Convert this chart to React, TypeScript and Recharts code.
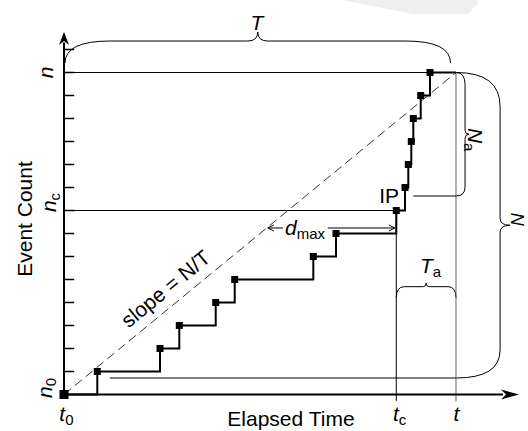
import React from 'react';
import { ComposedChart, Line, XAxis, YAxis, ReferenceLine, ReferenceDot, ReferenceArea } from 'recharts';

// ---- data (time in % of T, counts) ----
const eventTimes = [0, 8.49, 24.49, 29.41, 38.7, 43.55, 63.6, 69.39, 84.77, 86.99, 87.83, 88.6, 89.11, 91.0, 93.37];
const eventCounts = [0, 1, 2, 3, 4, 5, 6, 7, 8, 9, 10, 11, 12, 13, 14];
const T_END = 100;
const N_END = 14;
const T_C = 84.77;
const N_C = 8;
const yTickCounts = [1, 2, 3, 4, 5, 6, 7, 8, 9, 10, 11, 12, 13, 14, 15];

// ---- layout (axis domains chosen so the whole canvas is plot area) ----
const W = 528;
const H = 431;
const X_DOMAIN: [number, number] = [-16.33, 118.37];
const Y_DOMAIN: [number, number] = [-1.587, 17.152];
const FONT = "'Liberation Sans', Arial, Helvetica, sans-serif";
const FS = 21;
const SUB = 15;

const stepData = [
  ...eventTimes.map((t, i) => ({ t, n: eventCounts[i], ev: true })),
  { t: T_END, n: N_END, ev: false },
];

type Part = { s: string; it?: boolean; sub?: boolean };
type Ann = { t: number; n: number; parts: Part[]; anchor: 'start' | 'middle' | 'end'; rot?: number; fs?: number };

const annotations: Ann[] = [
  { t: 49.2, n: 15.85, parts: [{ s: 'T', it: true }], anchor: 'middle' },
  { t: -2.81, n: 14.0, parts: [{ s: 'n', it: true }], anchor: 'middle', rot: -90 },
  { t: -2.04, n: 7.93, parts: [{ s: 'n', it: true }, { s: 'c', sub: true }], anchor: 'start', rot: -90 },
  { t: -8.16, n: 7.63, parts: [{ s: 'Event Count' }], anchor: 'middle', rot: -90 },
  { t: -3.06, n: -0.15, parts: [{ s: 'n', it: true }, { s: '0', sub: true }], anchor: 'start', rot: -90 },
  { t: -1.2, n: -1.15, parts: [{ s: 't', it: true }, { s: '0', sub: true }], anchor: 'start' },
  { t: 57.9, n: -1.37, parts: [{ s: 'Elapsed Time' }], anchor: 'middle' },
  { t: 83.9, n: -1.15, parts: [{ s: 't', it: true }, { s: 'c', sub: true }], anchor: 'start' },
  { t: 100.1, n: -1.15, parts: [{ s: 't', it: true }], anchor: 'middle' },
  { t: 85.46, n: 8.33, parts: [{ s: 'IP' }], anchor: 'end' },
  { t: 56.38, n: 6.93, parts: [{ s: 'd', it: true }, { s: 'max', sub: true }], anchor: 'start' },
  { t: 27.1, n: 4.35, parts: [{ s: 'slope = N/T' }], anchor: 'middle', rot: -39.4 },
  { t: 90.82, n: 5.28, parts: [{ s: 'T', it: true }, { s: 'a', sub: true }], anchor: 'start' },
  { t: 103.06, n: 11.59, parts: [{ s: 'N', it: true }, { s: 'a', sub: true }], anchor: 'start', rot: 90 },
  { t: 114.0, n: 7.9, parts: [{ s: 'N', it: true }], anchor: 'start', rot: 90, fs: 18 },
];

const labelShape = (a: Ann) => (p: any) => {
  const { cx, cy } = p;
  const fs = a.fs ?? FS;
  return (
    <text
      x={cx}
      y={cy}
      fontFamily={FONT}
      fontSize={fs}
      fill="#000"
      textAnchor={a.anchor}
      transform={a.rot ? `rotate(${a.rot} ${cx} ${cy})` : undefined}
    >
      {a.parts.map((pt, i) => (
        <tspan
          key={i}
          fontStyle={pt.it ? 'italic' : 'normal'}
          fontSize={pt.sub ? SUB : fs}
          dy={pt.sub ? 4 : 0}
        >
          {pt.s}
        </tspan>
      ))}
    </text>
  );
};

const braceUp = (rEnd: number, rTip: number, armFrac: number) => (p: any) => {
  const { x, y, width: w, height: h } = p;
  const yb = y + h;
  const ym = y + h * armFrac;
  const xc = x + w / 2;
  const x1 = x + w;
  const d = `M${x},${yb} Q${x},${ym} ${x + rEnd},${ym} L${xc - rTip},${ym} Q${xc},${ym} ${xc},${y} Q${xc},${ym} ${xc + rTip},${ym} L${x1 - rEnd},${ym} Q${x1},${ym} ${x1},${yb}`;
  return <path d={d} fill="none" stroke="#000" strokeWidth={1} />;
};

const braceRight = (rTop: number, rBot: number, rTip: number, armFrac: number) => (p: any) => {
  const { x, y, width: w, height: h } = p;
  const xa = x + w * armFrac;
  const xt = x + w;
  const yc = y + h / 2;
  const yb = y + h;
  const d = `M${x},${y} Q${xa},${y} ${xa},${y + rTop} L${xa},${yc - rTip} Q${xa},${yc} ${xt},${yc} Q${xa},${yc} ${xa},${yc + rTip} L${xa},${yb - rBot} Q${xa},${yb} ${x},${yb}`;
  return <path d={d} fill="none" stroke="#000" strokeWidth={1} />;
};

const watermark = (p: any) => {
  const { x, y, width: w, height: h } = p;
  const pts = [
    [0, 0],
    [0.522, 1],
    [0.926, 1],
    [1, 0.21],
    [1, 0],
  ]
    .map(([fx, fy]) => `${x + fx * w},${y + fy * h}`)
    .join(' ');
  return <polygon points={pts} fill="#efefef" />;
};

const arrowRight = (p: any) => {
  const { cx, cy } = p;
  return <path d={`M${cx},${cy} L${cx - 18},${cy - 5} L${cx - 13},${cy} L${cx - 18},${cy + 5} Z`} fill="#000" />;
};
const arrowUp = (p: any) => {
  const { cx, cy } = p;
  return <path d={`M${cx},${cy} L${cx - 5},${cy + 13} L${cx},${cy + 9} L${cx + 5},${cy + 13} Z`} fill="#000" />;
};
const chevronLeft = (p: any) => {
  const { cx, cy } = p;
  return <path d={`M${cx + 6},${cy - 3} L${cx},${cy} L${cx + 6},${cy + 3}`} fill="none" stroke="#000" strokeWidth={1} />;
};
const chevronRight = (p: any) => {
  const { cx, cy } = p;
  return <path d={`M${cx - 6},${cy - 3} L${cx},${cy} L${cx - 6},${cy + 3}`} fill="none" stroke="#000" strokeWidth={1} />;
};

const renderSquare = (props: any) => {
  const { cx, cy, payload, index } = props;
  if (!payload || !payload.ev) return <g key={`sq-${index}`} />;
  const s = index === 0 ? 9 : 7;
  return <rect key={`sq-${index}`} x={cx - s / 2} y={cy - s / 2} width={s} height={s} fill="#000" />;
};

export default function App() {
  return (
    <div style={{ position: 'fixed', left: 0, top: 0, width: W, height: H, background: '#fff' }}>
      <ComposedChart width={W} height={H} margin={{ top: 0, right: 0, bottom: 0, left: 0 }}>
        <XAxis hide type="number" dataKey="t" domain={X_DOMAIN} allowDataOverflow />
        <YAxis hide type="number" dataKey="n" domain={Y_DOMAIN} allowDataOverflow />

        <ReferenceArea x1={70.9} x2={105.6} y1={16.54} y2={17.15} shape={watermark} />

        {/* guide lines */}
        <ReferenceLine segment={[{ x: 0, y: N_END }, { x: T_END, y: N_END }]} stroke="#000" strokeWidth={1} />
        <ReferenceLine segment={[{ x: 0, y: N_C }, { x: T_C, y: N_C }]} stroke="#000" strokeWidth={1} />
        <ReferenceLine segment={[{ x: T_C, y: N_C }, { x: T_C, y: -0.28 }]} stroke="#000" strokeWidth={1} />
        <ReferenceLine segment={[{ x: T_END, y: N_END }, { x: T_END, y: -0.3 }]} stroke="#666" strokeWidth={1} />
        <ReferenceLine segment={[{ x: 11.7, y: 0.717 }, { x: T_END, y: 0.717 }]} stroke="#000" strokeWidth={1} />
        <ReferenceLine segment={[{ x: 89.1, y: 8.63 }, { x: T_END, y: 8.63 }]} stroke="#000" strokeWidth={1} />
        <ReferenceLine
          segment={[{ x: 0, y: 0 }, { x: T_END, y: N_END }]}
          stroke="#333"
          strokeWidth={1}
          strokeDasharray="9 5"
        />

        {/* d_max arrow */}
        <ReferenceLine segment={[{ x: 52.0, y: 7.24 }, { x: 55.9, y: 7.24 }]} stroke="#000" strokeWidth={1} />
        <ReferenceLine segment={[{ x: 67.3, y: 7.24 }, { x: 84.4, y: 7.24 }]} stroke="#000" strokeWidth={1} />
        <ReferenceDot x={52.0} y={7.24} shape={chevronLeft} />
        <ReferenceDot x={84.4} y={7.24} shape={chevronRight} />

        {/* braces */}
        <ReferenceArea x1={0.26} x2={98.6} y1={14.41} y2={15.76} shape={braceUp(45, 10, 0.29)} />
        <ReferenceArea x1={T_C} x2={T_END} y1={4.2} y2={4.85} shape={braceUp(8, 3, 0.25)} />
        <ReferenceArea x1={T_END} x2={113.8} y1={0.717} y2={N_END} shape={braceRight(34, 28, 7, 0.815)} />
        <ReferenceArea x1={T_END} x2={103.3} y1={8.63} y2={N_END} shape={braceRight(12, 9, 4, 0.7)} />

        {/* axes */}
        {yTickCounts.map((k) => (
          <ReferenceLine key={`tk${k}`} segment={[{ x: 0, y: k }, { x: 2.6, y: k }]} stroke="#000" strokeWidth={1.5} />
        ))}
        <ReferenceLine segment={[{ x: 0, y: 0 }, { x: 112, y: 0 }]} stroke="#000" strokeWidth={2} />
        <ReferenceLine segment={[{ x: 0, y: 0 }, { x: 0, y: 15.3 }]} stroke="#000" strokeWidth={2} />
        <ReferenceDot x={116.07} y={0} shape={arrowRight} />
        <ReferenceDot x={0} y={15.76} shape={arrowUp} />

        {/* event step curve */}
        <Line
          data={stepData}
          dataKey="n"
          type="stepAfter"
          stroke="#000"
          strokeWidth={2}
          dot={renderSquare}
          activeDot={false}
          isAnimationActive={false}
        />

        {annotations.map((a, i) => (
          <ReferenceDot key={`an${i}`} x={a.t} y={a.n} shape={labelShape(a)} />
        ))}
      </ComposedChart>
    </div>
  );
}
